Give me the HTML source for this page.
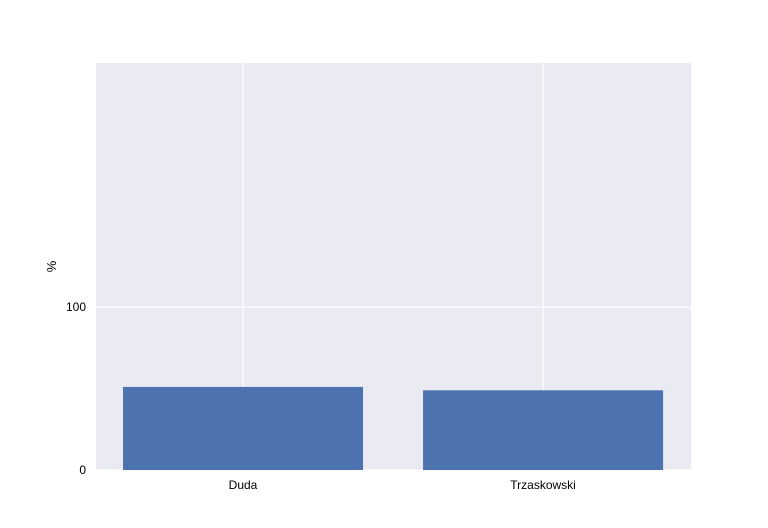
<!DOCTYPE html>
<html><head><meta charset="utf-8"><style>
body{margin:0;background:#fff;}
svg{display:block;font-family:"Liberation Sans",Arial,sans-serif;}
</style></head><body>
<svg id="chart" width="768" height="528"></svg>
<script>
const categories = ["Duda", "Trzaskowski"];
const values = [51.03, 48.97];
const yTicks = [0, 100];
const yMax = 250;

const NS = "http://www.w3.org/2000/svg";
const svg = document.getElementById("chart");
const L = 96, R = 691, T = 63, B = 470;
const xMin = -0.49, xMax = 1.493;
const xs = v => L + (v - xMin) / (xMax - xMin) * (R - L);
const ys = v => B - v / yMax * (B - T);
function mk(tag, attrs) { const e = document.createElementNS(NS, tag); for (const k in attrs) e.setAttribute(k, attrs[k]); svg.appendChild(e); return e; }

const bg = mk("rect", {x: L, y: T, width: R - L, height: B - T, fill: "#eaeaf2"});



yTicks.forEach(t => {
  const g = mk("line", {x1: L, x2: R, y1: ys(t), y2: ys(t), stroke: "#fff", "stroke-width": 1.2});
  
  
  const lb = mk("text", {x: L - 10, y: ys(t) + 4, "text-anchor": "end", "font-size": 12, fill: "#000"});
  lb.textContent = t;
  
  
});
categories.forEach((c, i) => {
  const g = mk("line", {x1: xs(i), x2: xs(i), y1: T, y2: B, stroke: "#fff", "stroke-width": 1.2});
  
  
});
categories.forEach((c, i) => {
  const x0 = xs(i - 0.4), x1 = xs(i + 0.4);
  const b = mk("rect", {x: x0, y: ys(values[i]), width: x1 - x0, height: B - ys(values[i]), fill: "#4c72b0"});
  
  
  const lb = mk("text", {x: xs(i), y: B + 19, "text-anchor": "middle", "font-size": 12, fill: "#000"});
  lb.textContent = c;
  
  
});
const yt = mk("text", {x: 56, y: (T + B) / 2, "text-anchor": "middle", "font-size": 13, fill: "#000", transform: "rotate(-90 56 " + ((T + B) / 2) + ")"});
yt.textContent = "%";


</script>
</body></html>
